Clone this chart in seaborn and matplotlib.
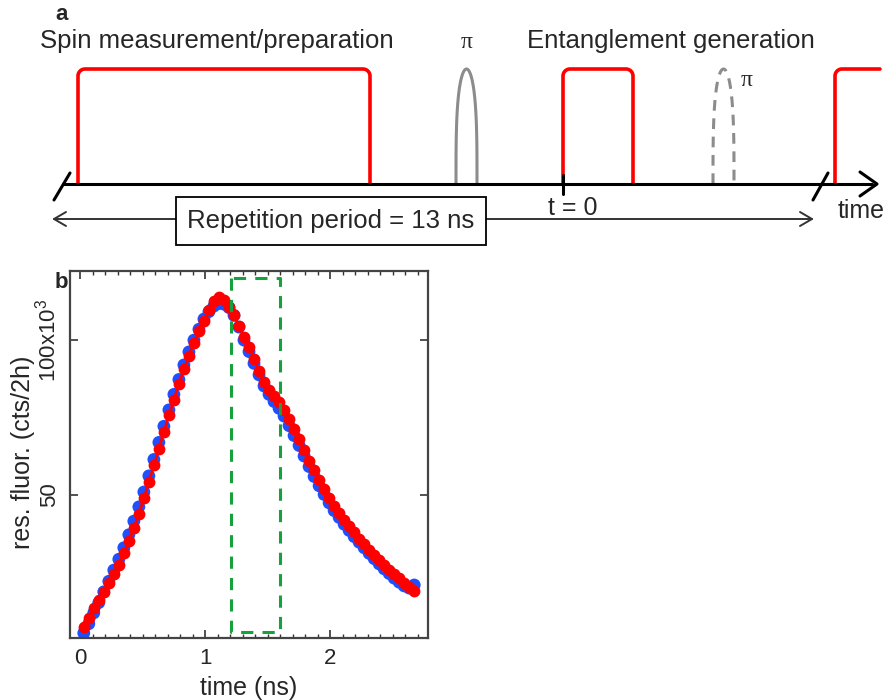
import numpy as np
import pandas as pd
import matplotlib
matplotlib.use("Agg")
import matplotlib.pyplot as plt
import seaborn as sns

# ── Panel b data (counts x10^3 per 2h) ─────────────────────────────────────────
time_ns = [0.03, 0.07, 0.11, 0.15, 0.19, 0.23, 0.27, 0.31, 0.35, 0.39,
           0.43, 0.47, 0.51, 0.55, 0.59, 0.63, 0.67, 0.71, 0.75, 0.79,
           0.83, 0.87, 0.91, 0.95, 0.99, 1.03, 1.07, 1.11, 1.15, 1.19,
           1.23, 1.27, 1.31, 1.35, 1.39, 1.43, 1.47, 1.51, 1.55, 1.59,
           1.63, 1.67, 1.71, 1.75, 1.79, 1.83, 1.87, 1.91, 1.95, 1.99,
           2.03, 2.07, 2.11, 2.15, 2.19, 2.23, 2.27, 2.31, 2.35, 2.39,
           2.43, 2.47, 2.51, 2.55, 2.59, 2.63, 2.67]

measured = [5.5, 8.5, 12.0, 15.3, 18.8, 22.2, 25.8, 29.3, 33.0, 37.2,
            41.6, 46.2, 51.0, 56.2, 61.5, 67.0, 72.2, 77.5, 82.5, 87.3,
            92.0, 96.2, 100.0, 103.5, 106.8, 109.2, 111.0, 111.8, 111.6, 110.5,
            108.0, 104.2, 100.0, 96.3, 92.5, 88.8, 85.2, 82.5, 80.2, 78.0,
            75.5, 72.4, 69.2, 66.0, 62.6, 59.2, 56.0, 53.0, 50.2, 47.5,
            45.0, 42.8, 40.6, 38.6, 36.6, 34.8, 33.0, 31.2, 29.5, 27.8,
            26.2, 24.7, 23.2, 21.9, 20.7, 20.0, 21.0]

model = [7.5, 10.5, 13.5, 16.2, 18.8, 21.5, 24.5, 27.6, 31.2, 35.2,
         39.3, 43.8, 49.0, 54.2, 59.6, 65.0, 70.4, 75.7, 80.8, 85.8,
         90.6, 95.0, 99.0, 102.8, 106.3, 109.6, 112.5, 113.8, 113.0, 110.6,
         108.0, 104.5, 101.0, 97.8, 94.0, 90.0, 86.5, 84.0, 82.0, 80.0,
         77.5, 74.5, 71.2, 68.0, 64.5, 61.0, 58.0, 55.0, 52.0, 49.2,
         46.5, 44.3, 42.0, 40.0, 38.0, 36.0, 34.2, 32.4, 30.7, 29.0,
         27.4, 25.9, 24.5, 23.1, 21.8, 20.5, 19.2]

# time window (ns) and its vertical extent
window_t = [1.21, 1.60]
window_y = [5.8, 120.0]

x_ticks = [0, 1, 2]
y_ticks = [50, 100]
y_ticklabels = ["50", "100x10$^3$"]

# ── Panel a schematic geometry (figure pixels) ─────────────────────────────────
AXIS_Y = 184
PULSE_TOP = 69
red_pulses = [(78, 370), (563, 633)]
pi_pulse = (456, 477)
pi_pulse_dashed = (713, 734)
T0_X = 563

df = pd.DataFrame({"t": time_ns, "data": measured, "fit": model})

sns.set_style("white")
plt.rcParams["font.family"] = ["Liberation Sans", "DejaVu Sans"]
plt.rcParams["mathtext.fontset"] = "custom"
plt.rcParams["mathtext.rm"] = "Liberation Sans"
plt.rcParams["mathtext.it"] = "Liberation Sans:italic"

fig = plt.figure(figsize=(8.86, 7.00), dpi=100)

# ═══ Panel a ══════════════════════════════════════════════════════════════════
axa = fig.add_axes([0, 0, 1, 1])
axa.set_xlim(0, 886)
axa.set_ylim(700, 0)
axa.axis("off")

RED = "#ff0000"
r = 7
arc = np.linspace(0, np.pi / 2, 10)


def red_pulse(x0, x1, open_right=False):
    xs = [x0]
    ys = [AXIS_Y]
    xs += list(x0 + r - r * np.cos(arc))
    ys += list(PULSE_TOP + r - r * np.sin(arc))
    if open_right:
        xs.append(x1)
        ys.append(PULSE_TOP)
    else:
        xs += list(x1 - r + r * np.sin(arc))
        ys += list(PULSE_TOP + r - r * np.cos(arc))
        xs.append(x1)
        ys.append(AXIS_Y)
    axa.plot(xs, ys, color=RED, lw=2.6, solid_joinstyle="round", zorder=2)


for x0, x1 in red_pulses:
    red_pulse(x0, x1)
red_pulse(835, 880, open_right=True)

u = np.linspace(-1, 1, 60)
for (x0, x1), ls in [(pi_pulse, "-"), (pi_pulse_dashed, (0, (3.5, 2.5)))]:
    xc = (x0 + x1) / 2
    hw = (x1 - x0) / 2
    xs = xc + hw * np.sin(u * np.pi / 2)
    ys = AXIS_Y - (AXIS_Y - PULSE_TOP) * np.cos(u * np.pi / 2) ** 0.6
    axa.plot(xs, ys, color="#8c8c8c", lw=2.2, ls=ls, zorder=2)

# time axis with break marks and arrow
axa.plot([63, 872], [AXIS_Y, AXIS_Y], color="black", lw=2.2, zorder=3)
axa.plot([860, 877, 860], [172, AXIS_Y, 196], color="black", lw=2.2, zorder=3)
axa.plot([54, 70], [200, 173], color="black", lw=2.2, zorder=3)
axa.plot([813, 828], [200, 173], color="black", lw=2.2, zorder=3)
axa.plot([T0_X, T0_X], [175, 194], color="black", lw=2.2, zorder=3)

# repetition period arrow
axa.plot([54, 812], [219, 219], color="#333333", lw=1.4)
axa.plot([66, 54, 66], [212, 219, 226], color="#333333", lw=1.4)
axa.plot([800, 812, 800], [212, 219, 226], color="#333333", lw=1.4)
axa.text(331, 221, "Repetition period = 13 ns", fontsize=18.5, ha="center",
         va="center", zorder=5,
         bbox=dict(boxstyle="square,pad=0.45", fc="white", ec="black", lw=1.3))

axa.text(40, 41, "Spin measurement/preparation", fontsize=18.5, ha="left", va="center")
axa.text(527, 41, "Entanglement generation", fontsize=18.5, ha="left", va="center")
axa.text(467, 42, "π", fontsize=17, ha="center", va="center", family="Liberation Serif")
axa.text(747, 81, "π", fontsize=17, ha="center", va="center", family="Liberation Serif")
axa.text(573, 208, "t = 0", fontsize=18, ha="center", va="center")
axa.text(861, 211, "time", fontsize=18, ha="center", va="center")
axa.text(62, 14, "a", fontsize=16, fontweight="bold", ha="center", va="center")
axa.text(61, 283, "b", fontsize=16, fontweight="bold", ha="center", va="center")

# ═══ Panel b ══════════════════════════════════════════════════════════════════
axb = fig.add_axes([70 / 886, 62 / 700, 358 / 886, 367 / 700])
sns.scatterplot(data=df, x="t", y="data", color="#1f50ff", s=85,
                edgecolor="none", ax=axb, zorder=2)
sns.lineplot(data=df, x="t", y="fit", color=RED, lw=2, marker="o",
             markersize=8.5, markeredgecolor="none", ax=axb, zorder=3)

axb.plot([window_t[0], window_t[0], window_t[1], window_t[1], window_t[0]],
         [window_y[1], window_y[0], window_y[0], window_y[1], window_y[1]],
         color="#17a03c", lw=2.2, ls=(0, (4, 3)), zorder=4)

axb.set_xlim(-0.08, 2.78)
axb.set_ylim(3.9, 122.3)
axb.set_xticks(x_ticks)
axb.set_xticklabels([str(v) for v in x_ticks])
axb.set_xticks(np.arange(0, 2.8, 0.1), minor=True)
axb.set_yticks(y_ticks)
axb.set_yticklabels(y_ticklabels, rotation=90, va="center")
axb.tick_params(which="both", direction="in", top=True, right=True,
                bottom=True, left=True, labelsize=16, pad=7, color="#333333")
axb.tick_params(which="major", length=6, width=1.2)
axb.tick_params(which="minor", length=3, width=1.0)
for s in axb.spines.values():
    s.set_linewidth(1.6)
    s.set_color("#444444")
axb.set_xlabel("time (ns)", fontsize=18, labelpad=5)
axb.set_ylabel("res. fluor. (cts/2h)", fontsize=18)
axb.yaxis.set_label_coords(-0.098, 0.505)

fig.savefig("out.png", dpi=100)
